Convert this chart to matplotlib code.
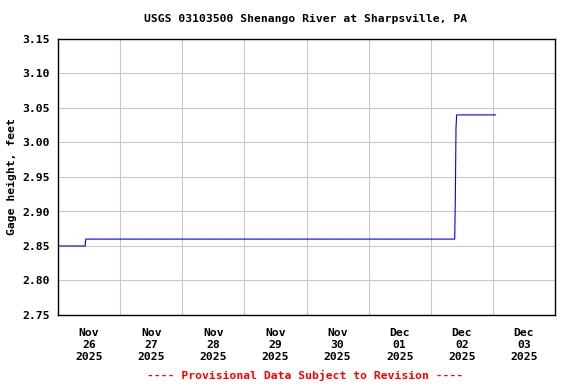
import matplotlib
matplotlib.use("Agg")
import matplotlib.pyplot as plt
import matplotlib.dates as mdates
from datetime import datetime

# gage readings (local time, feet)
times = ["2025-11-26 00:00", "2025-11-26 10:30", "2025-11-26 10:45",
         "2025-12-02 09:15", "2025-12-02 09:30", "2025-12-02 09:45",
         "2025-12-02 10:00", "2025-12-03 01:00"]
heights = [2.85, 2.85, 2.86, 2.86, 2.92, 3.02, 3.04, 3.04]

day_labels = ["Nov\n26\n2025", "Nov\n27\n2025", "Nov\n28\n2025", "Nov\n29\n2025",
              "Nov\n30\n2025", "Dec\n01\n2025", "Dec\n02\n2025", "Dec\n03\n2025"]
y_ticks = [2.75, 2.80, 2.85, 2.90, 2.95, 3.00, 3.05, 3.10, 3.15]

mono = "DejaVu Sans Mono"
t = [datetime.strptime(s, "%Y-%m-%d %H:%M") for s in times]

fig = plt.figure(figsize=(5.76, 3.84), dpi=100)
ax = fig.add_axes([58/576, 1-315/384, (555-58)/576, (315-39)/384])

ax.plot(t, heights, color="#0000ff", lw=0.8)

x0 = mdates.date2num(datetime(2025, 11, 26))
ax.set_xlim(x0, x0 + 8)
ax.set_ylim(2.75, 3.15)

ax.set_xticks([x0 + i for i in range(1, 8)])
ax.set_xticklabels([])
ax.set_xticks([x0 + i + 0.5 for i in range(8)], minor=True)
ax.set_xticklabels(day_labels, minor=True, fontfamily=mono, fontweight="bold",
                   fontsize=8.2, linespacing=1.3)
ax.set_yticks(y_ticks)
ax.set_yticklabels(["%.2f" % v for v in y_ticks], fontfamily=mono,
                   fontweight="bold", fontsize=8.2)
ax.tick_params(axis="both", which="both", length=0, pad=6)
ax.tick_params(axis="x", which="minor", pad=9)

ax.grid(True, which="major", color="#c8c8c8", lw=0.75)
ax.set_axisbelow(True)
for s in ax.spines.values():
    s.set_linewidth(1.0)
    s.set_color("black")

ax.set_ylabel("Gage height, feet", fontfamily=mono, fontweight="bold",
              fontsize=8.2, labelpad=4)

fig.text(306/576, 1-19/384, "USGS 03103500 Shenango River at Sharpsville, PA",
         ha="center", va="center", fontfamily=mono, fontweight="bold", fontsize=8.2)
fig.text(305/576, 1-375/384, "---- Provisional Data Subject to Revision ----",
         ha="center", va="center", fontfamily=mono, fontweight="bold",
         fontsize=8.2, color="red")

fig.savefig("out.png", dpi=100)
